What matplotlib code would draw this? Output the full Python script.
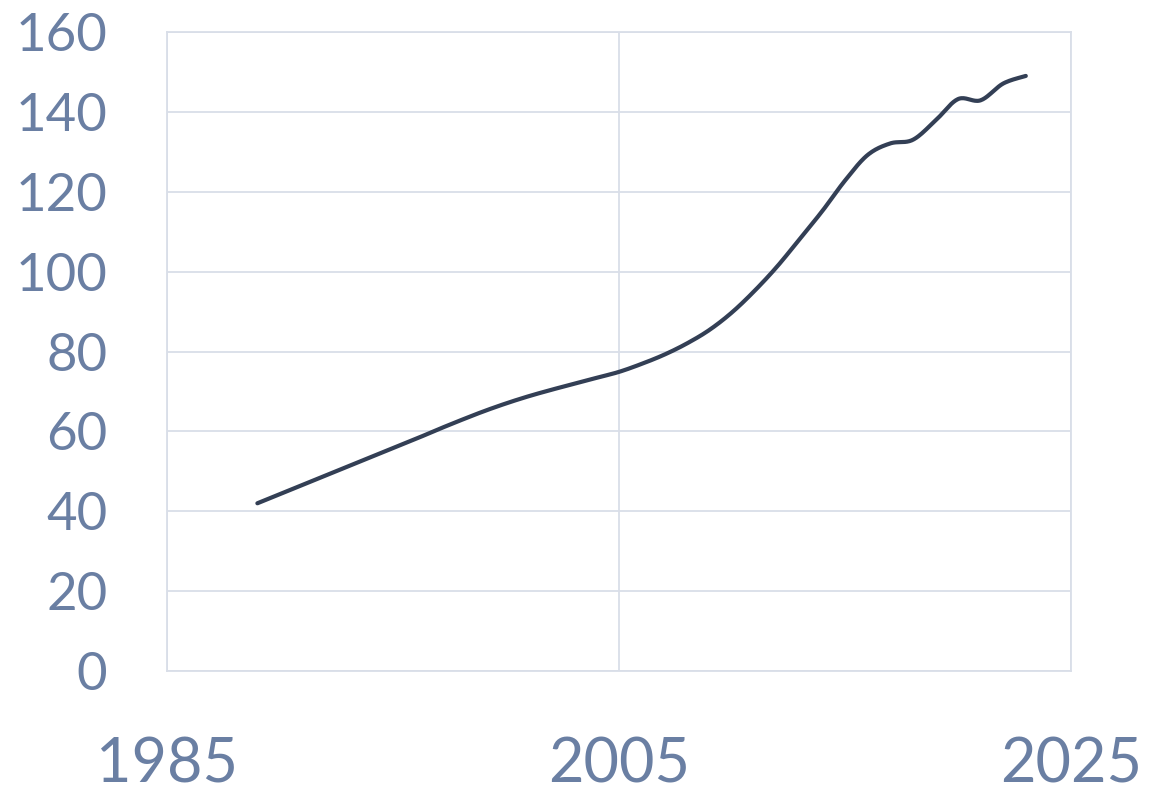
import numpy as np
import matplotlib
matplotlib.use("Agg")
import matplotlib.pyplot as plt

# yearly values
years = list(range(1989, 2024))
values = [42.0, 44.3, 46.6, 48.9, 51.2, 53.5, 55.8, 58.1, 60.5, 62.8,
          65.0, 67.0, 68.8, 70.4, 71.9, 73.4, 74.9, 76.9, 79.2, 82.0,
          85.4, 89.8, 95.2, 101.3, 108.2, 115.2, 122.8, 129.2, 132.1, 133.0,
          137.8, 143.2, 142.9, 147.1, 149.0]

x_ticks = [1985, 2005, 2025]
y_ticks = [0, 20, 40, 60, 80, 100, 120, 140, 160]

label_color = "#6A7FA3"
grid_color = "#D9DEE8"
line_color = "#333F55"


# smoothed line like a spreadsheet "smooth line" (Catmull-Rom between points)
def smooth(xs, ys, steps=20):
    xs = np.asarray(xs, dtype=float)
    ys = np.asarray(ys, dtype=float)
    px = np.concatenate([[xs[0]], xs, [xs[-1]]])
    py = np.concatenate([[ys[0]], ys, [ys[-1]]])
    out_x, out_y = [], []
    t = np.linspace(0, 1, steps, endpoint=False)
    for i in range(1, len(px) - 2):
        p0, p1, p2, p3 = (np.array([px[j], py[j]]) for j in range(i - 1, i + 3))
        c1 = p1 + (p2 - p0) / 6
        c2 = p2 - (p3 - p1) / 6
        b = ((1 - t) ** 3)[:, None] * p1 + (3 * (1 - t) ** 2 * t)[:, None] * c1 \
            + (3 * (1 - t) * t ** 2)[:, None] * c2 + (t ** 3)[:, None] * p2
        out_x.extend(b[:, 0])
        out_y.extend(b[:, 1])
    out_x.append(xs[-1])
    out_y.append(ys[-1])
    return out_x, out_y


fig = plt.figure(figsize=(11.5, 7.96), dpi=100)
ax = fig.add_axes([0.1452, 0.157, 0.7861, 0.8028])

sx, sy = smooth(years, values)
ax.plot(sx, sy, color=line_color, linewidth=3, solid_capstyle="round")

ax.set_xlim(1985, 2025)
ax.set_ylim(0, 160)
ax.set_xticks(x_ticks)
ax.set_yticks(y_ticks)
ax.grid(True, color=grid_color, linewidth=1.3)
ax.set_axisbelow(True)
for s in ax.spines.values():
    s.set_color(grid_color)
    s.set_linewidth(1.3)

ax.tick_params(axis="both", length=0, colors=label_color)
ax.tick_params(axis="y", pad=43, labelsize=38)
ax.tick_params(axis="x", pad=47, labelsize=44)
for lab in ax.get_xticklabels() + ax.get_yticklabels():
    lab.set_family(["Lato", "DejaVu Sans"])

fig.savefig("out.png", dpi=100)
